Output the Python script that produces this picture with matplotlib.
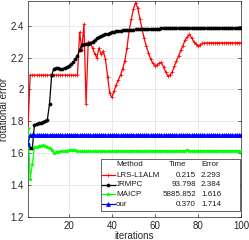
import matplotlib
matplotlib.use('Agg')
import matplotlib.pyplot as plt
from matplotlib.lines import Line2D
from matplotlib.patches import Rectangle

plt.rcParams['font.family'] = ['Liberation Sans', 'DejaVu Sans']

iterations = list(range(1, 101))

lrs_l1alm = [1.76,
    2.09, 2.09, 2.09, 2.09, 2.09, 2.09, 2.09, 2.09, 2.09, 2.09,
    2.09, 2.09, 2.09, 2.09, 2.09, 2.09, 2.09, 2.09, 2.09, 2.09,
    2.09, 2.09, 2.09,
    2.36, 2.25, 2.41, 1.91, 2.30, 2.29, 2.26, 2.225, 2.20, 2.26,
    2.22, 2.24, 2.19, 2.08, 1.975, 1.95, 1.99, 2.03, 2.06, 2.09,
    2.13, 2.18, 2.26, 2.37, 2.44, 2.505, 2.545, 2.51, 2.445, 2.38,
    2.32, 2.27, 2.23, 2.19, 2.165, 2.15, 2.155, 2.165, 2.17, 2.14,
    2.11, 2.085, 2.09, 2.11, 2.145, 2.18, 2.21, 2.245, 2.275, 2.31,
    2.33, 2.345, 2.325, 2.30, 2.285, 2.275, 2.28, 2.29,
    2.291, 2.292, 2.292, 2.293, 2.293, 2.292, 2.293, 2.293, 2.293, 2.292,
    2.293, 2.293, 2.293, 2.293, 2.293, 2.293, 2.293, 2.293]

jrmpc = [1.66, 1.63, 1.63, 1.78, 1.785, 1.79, 1.79, 1.795, 1.80, 1.81,
    1.91, 2.09, 2.13, 2.135, 2.135, 2.13, 2.13, 2.135, 2.14, 2.15,
    2.16, 2.17, 2.19, 2.21, 2.25, 2.28, 2.285, 2.285, 2.285, 2.29,
    2.30, 2.31, 2.32, 2.33, 2.335, 2.34, 2.345, 2.35, 2.355, 2.36,
    2.362, 2.364, 2.366, 2.368, 2.37, 2.372, 2.373, 2.374, 2.375, 2.376,
    2.377, 2.378, 2.379, 2.38, 2.38, 2.381, 2.381, 2.381, 2.382, 2.382,
    2.382, 2.382, 2.383, 2.383, 2.383, 2.383, 2.383, 2.383, 2.383, 2.384,
    2.384, 2.384, 2.384, 2.384, 2.384, 2.384, 2.384, 2.384, 2.384, 2.384,
    2.384, 2.384, 2.384, 2.384, 2.384, 2.384, 2.384, 2.384, 2.384, 2.384,
    2.384, 2.384, 2.384, 2.384, 2.384, 2.384, 2.384, 2.384, 2.384, 2.384]

maicp = [1.76, 1.44, 1.53, 1.64, 1.64, 1.645, 1.645, 1.65, 1.645, 1.64,
    1.635, 1.62, 1.60, 1.605, 1.61, 1.612, 1.613, 1.615, 1.617, 1.618,
    1.62, 1.62, 1.618, 1.615, 1.612, 1.612, 1.611, 1.612, 1.613, 1.614,
    1.613, 1.612, 1.611, 1.612, 1.614, 1.615, 1.614, 1.613, 1.612, 1.612,
    1.613, 1.614, 1.615, 1.616, 1.615, 1.614, 1.613, 1.613, 1.614, 1.615,
    1.616, 1.616, 1.615, 1.614, 1.614, 1.615, 1.616, 1.617, 1.616, 1.615,
    1.615, 1.616, 1.617, 1.617, 1.616, 1.615, 1.615, 1.616, 1.617, 1.616,
    1.616, 1.615, 1.616, 1.617, 1.618, 1.617, 1.616, 1.616, 1.616, 1.617,
    1.617, 1.616, 1.616, 1.616, 1.617, 1.617, 1.616, 1.616, 1.616, 1.616,
    1.616, 1.616, 1.616, 1.616, 1.616, 1.616, 1.616, 1.616, 1.616, 1.616]

ours = [1.66,
    1.714, 1.714, 1.714, 1.714, 1.714, 1.714, 1.714, 1.714, 1.714,
    1.714, 1.714, 1.714, 1.714, 1.714, 1.714, 1.714, 1.714, 1.714, 1.714,
    1.714, 1.714, 1.714, 1.714, 1.714, 1.714, 1.714, 1.714, 1.714, 1.714,
    1.714, 1.714, 1.714, 1.714, 1.714, 1.714, 1.714, 1.714, 1.714, 1.714,
    1.714, 1.714, 1.714, 1.714, 1.714, 1.714, 1.714, 1.714, 1.714, 1.714,
    1.714, 1.714, 1.714, 1.714, 1.714, 1.714, 1.714, 1.714, 1.714, 1.714,
    1.714, 1.714, 1.714, 1.714, 1.714, 1.714, 1.714, 1.714, 1.714, 1.714,
    1.714, 1.714, 1.714, 1.714, 1.714, 1.714, 1.714, 1.714, 1.714, 1.714,
    1.714, 1.714, 1.714, 1.714, 1.714, 1.714, 1.714, 1.714, 1.714, 1.714,
    1.714, 1.714, 1.714, 1.714, 1.714, 1.714, 1.714, 1.714, 1.714, 1.714]

methods = ['LRS-L1ALM', 'JRMPC', 'MAICP', 'our']
times = ['0.215', '93.798', '5885.852', '0.370']
errors = ['2.293', '2.384', '1.616', '1.714']
colors = ['#ff0000', '#000000', '#00ff00', '#0000ff']
markers = ['+', 'o', '*', '^']
msizes = [2.6, 2.2, 2.6, 2.8]
series = [lrs_l1alm, jrmpc, maicp, ours]

xticks = [20, 40, 60, 80, 100]
yticks = [1.2, 1.4, 1.6, 1.8, 2.0, 2.2, 2.4]

fig = plt.figure(figsize=(2.49, 2.40), dpi=100)
ax = fig.add_axes([28/249, 23/240, 213/249, 216/240])

for ys, c, m, s in zip(series, colors, markers, msizes):
    ax.plot(iterations, ys, color=c, marker=m, ms=s, lw=0.9, mew=0.5,
            mfc=c, mec=c, zorder=3)

ax.set_xlim(1, 100)
ax.set_ylim(1.2, 2.555)
ax.set_xticks(xticks)
ax.set_xticklabels([f'{v:g}' for v in xticks])
ax.set_yticks(yticks)
ax.set_yticklabels([f'{v:g}' for v in yticks])
ax.grid(True, color='0.88', lw=0.5, zorder=0)
ax.set_axisbelow(True)
ax.tick_params(direction='in', length=2.5, width=0.5, labelsize=7,
               colors='0.15', top=True, right=True, labeltop=False,
               labelright=False, pad=3)
for sp in ax.spines.values():
    sp.set_linewidth(0.5)
    sp.set_color('0.15')
ax.set_xlabel('iterations', fontsize=7, labelpad=0, color='0.15')
ax.set_ylabel('rotational error', fontsize=7, labelpad=1, color='0.15')

# table-like legend
fs = 5.8
ax.add_patch(Rectangle((0.343, 0.028), 0.652, 0.241, transform=ax.transAxes,
                       facecolor='white', edgecolor='0.15', lw=0.5,
                       zorder=8, clip_on=False))
rows = [0.241, 0.194, 0.150, 0.106, 0.058]
ax.text(0.413, rows[0], 'Method', transform=ax.transAxes, fontsize=fs,
        va='center', ha='left', zorder=10, color='0.1')
ax.text(0.704, rows[0], 'Time', transform=ax.transAxes, fontsize=fs,
        va='center', ha='center', zorder=10, color='0.1')
ax.text(0.812, rows[0], 'Error', transform=ax.transAxes, fontsize=fs,
        va='center', ha='left', zorder=10, color='0.1')
for k in range(4):
    y = rows[k + 1]
    ax.add_artist(Line2D([0.347, 0.408], [y, y], transform=ax.transAxes,
                         color=colors[k], lw=0.9, zorder=9))
    ax.add_artist(Line2D([0.377], [y], transform=ax.transAxes,
                         color=colors[k], marker=markers[k], ms=msizes[k],
                         mew=0.5, mfc=colors[k], mec=colors[k], zorder=9))
    ax.text(0.413, y, methods[k], transform=ax.transAxes, fontsize=fs,
            va='center', ha='left', zorder=10, color='0.1')
    ax.text(0.789, y, times[k], transform=ax.transAxes, fontsize=fs,
            va='center', ha='right', zorder=10, color='0.1')
    ax.text(0.812, y, errors[k], transform=ax.transAxes, fontsize=fs,
            va='center', ha='left', zorder=10, color='0.1')

fig.savefig('out.png', dpi=100)
